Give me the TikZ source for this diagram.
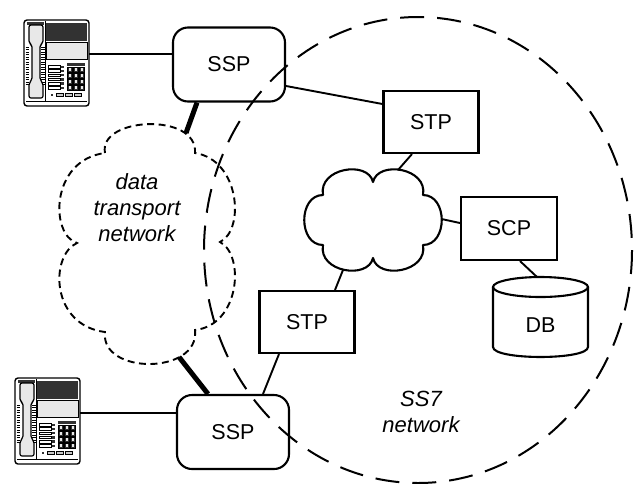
\documentclass[tikz,border=0pt]{standalone}
\usepackage{fontspec}
\setmainfont{Liberation Sans}
\usetikzlibrary{calc}

\definecolor{phonedark}{RGB}{50,50,50}
\definecolor{phonelight}{RGB}{232,232,232}
\definecolor{phonemid}{RGB}{200,200,200}

\tikzset{
  lbl/.style={font=\fontsize{21.5}{26}\selectfont},
  itlbl/.style={font=\fontsize{22}{26}\selectfont\itshape, align=center},
  sspbox/.style={draw, line width=2.1, rounded corners=15, minimum width=112,
    minimum height=74, inner sep=0, lbl},
  stpbox/.style={draw, line width=2.1, minimum width=95, minimum height=62,
    inner sep=0, lbl},
  wire/.style={line width=1.9},
  trunk/.style={line width=5},
  cloudline/.style={line width=2.1, line join=round},
  dtcloud/.style={line width=1.9, dash pattern=on 7 off 4.5},
  ssborder/.style={line width=2, dash pattern=on 24 off 13},
  % desk telephone, drawn from its top-left corner (65 x 86)
  deskphone/.pic={
    \draw[line width=1.4, rounded corners=3, fill=white] (0,0) rectangle (65,86);
    % cradle hooks
    \fill[phonedark] (3,1.5) rectangle (20,5);
    % display and label panel
    \fill[phonedark] (22,3) rectangle (63,21);
    \draw[line width=0.8, fill=phonelight] (22,22) rectangle (63,39);
    \draw[line width=0.9] (21,1) -- (21,81);
    \draw[line width=0.9] (2,81) -- (63,81);
    % coiled cord ridges
    \foreach \k in {0,...,15} {
      \draw[line width=0.7] (1.5,27+2.5*\k) -- (5,27+2.5*\k);
      \draw[line width=0.7] (17,27+2.5*\k) -- (20.5,27+2.5*\k);
    }
    % handset
    \draw[line width=1.2, fill=phonelight, rounded corners=2]
      (5,5) -- (19,5) -- (19,23) -- (16,25) -- (16,60) -- (19,63) -- (19,78)
      -- (5,78) -- (5,63) -- (8,60) -- (8,25) -- (5,23) -- cycle;
    % line keys with indicators
    \foreach \k in {0,...,5} {
      \draw[line width=0.5, fill=white] (24,45.5+4.2*\k) rectangle (36,48+4.2*\k);
      \fill[phonedark] (36.5,45.5+4.2*\k) rectangle (40,48+4.2*\k);
    }
    % dial pad
    \fill[phonedark] (43,43) rectangle (61,45.5);
    \foreach \c in {0,1,2} \foreach \r in {0,1,2,3} {
      \draw[line width=0.5, fill=phonedark] (43.5+6*\c,47+6*\r) rectangle +(5,5);
      \fill[phonelight] (44.8+6*\c,48.3+6*\r) rectangle +(2.4,2.4);
    }
    % function keys
    \foreach \c in {0,1,2}
      \draw[line width=0.5, fill=phonemid] (32+9*\c,73) rectangle +(7,3);
    \fill[phonedark] (27,73.5) rectangle +(2,2);
  }
}

\begin{document}
\begin{tikzpicture}[x=1pt, y=-1pt]
\useasboundingbox (0,0) rectangle (639,483);

% telephones
\pic at (24,20) {deskphone};
\pic at (15,378) {deskphone};
\coordinate (phA) at (89,54);
\coordinate (phB) at (80,413);

% switching points and transfer points
\node[sspbox] (sspA) at (229,64.5) {SSP};
\node[sspbox] (sspB) at (233,432) {SSP};
\node[stpbox] (stpA) at (431,122) {STP};
\node[stpbox] (stpB) at (307,322) {STP};
\node[stpbox, minimum width=96, minimum height=63] (scp) at (509,228.5) {SCP};

% database cylinder
\draw[line width=2.1] (493,287) -- (493,347)
  .. controls (493,360.3) and (588,360.3) .. (588,347) -- (588,287);
\draw[line width=2.1] (540.5,287) ellipse [x radius=47.5, y radius=10];
\node[lbl] (db) at (540.5,325) {DB};
\coordinate (dbTop) at (537,277);

% signalling network cloud
\draw[cloudline]
  (323,195) .. controls (318,168) and (368,160) .. (373,182)
            .. controls (378,160) and (428,168) .. (423,195)
            .. controls (448,195) and (448,245) .. (423,245)
            .. controls (428,272) and (378,280) .. (373,258)
            .. controls (368,280) and (318,272) .. (323,245)
            .. controls (298,245) and (298,195) .. cycle;
\coordinate (cN) at (398,170);
\coordinate (cE) at (441.5,219);
\coordinate (cS) at (343,270);

% data transport network cloud
\draw[dtcloud]
  (105,153) .. controls (98,117) and (198,112) .. (195,153)
            .. controls (240,160) and (245,230) .. (220,242)
            .. controls (245,255) and (240,325) .. (195,330)
            .. controls (200,375) and (100,375) .. (105,332)
            .. controls (50,325) and (50,255) .. (77,243)
            .. controls (50,235) and (50,160) .. cycle;
\coordinate (dtTop) at (186,133);
\coordinate (dtBot) at (179,357);
\node[itlbl] (dtlabel) at (137,208) {data\\transport\\network};

% SS7 network boundary
\draw[ssborder] (418,250) ellipse [x radius=214, y radius=233];
\node[itlbl] (sslabel) at (421,412) {SS7\\network};

% links
\draw[wire] (phA) -- (phA -| sspA.west);
\draw[wire] (phB) -- (phB -| sspB.west);
\draw[wire] ($(sspA.east)+(0,21.5)$) -- ($(stpA.west)+(0,-18)$);
\draw[wire] ($(stpA.south)+(-19,0)$) -- (cN);
\draw[wire] (cE) -- ($(scp.west)+(0,-5.5)$);
\draw[wire] ($(scp.south)+(11,0)$) -- (dbTop);
\draw[wire] (cS) -- ($(stpB.north)+(28,0)$);
\draw[wire] ($(stpB.south)+(-28,0)$) -- ($(sspB.north)+(30,0)$);
\draw[trunk] ($(sspA.south)+(-32,0)$) -- (dtTop);
\draw[trunk] (dtBot) -- ($(sspB.north)+(-25,0)$);
\end{tikzpicture}
\end{document}
